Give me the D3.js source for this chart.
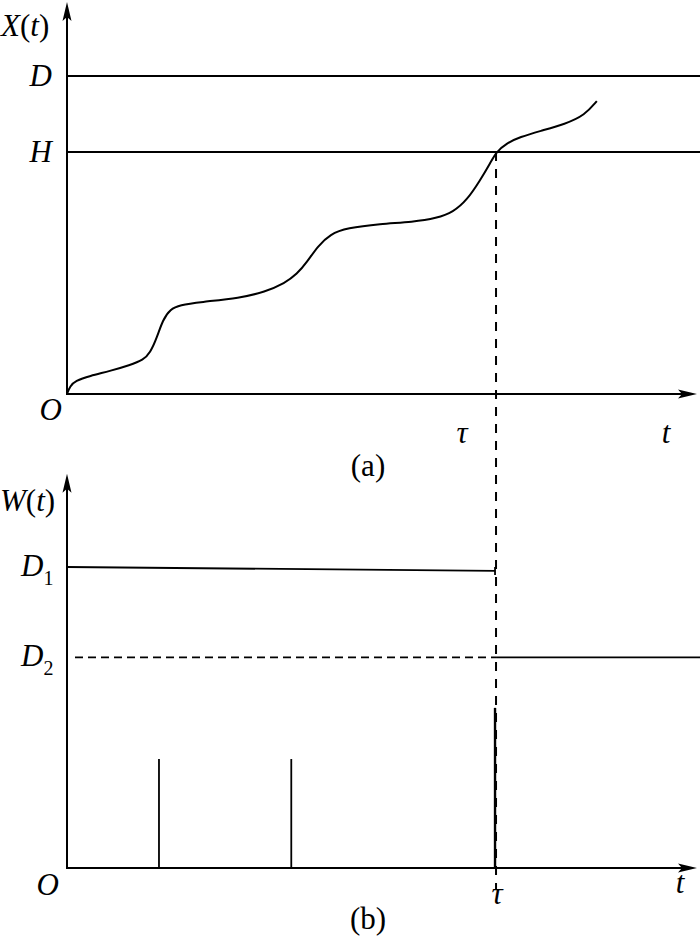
<!DOCTYPE html>
<html>
<head>
<meta charset="utf-8">
<script src="https://cdn.jsdelivr.net/npm/d3@7.9.0/dist/d3.min.js"></script>
<style>
  body { margin: 0; background: #fff; }
  svg { display: block; }
  text { font-family: 'Liberation Serif', 'DejaVu Serif', serif; fill: #000; }
</style>
</head>
<body>
<svg id="chart" width="700" height="944"></svg>
<script>
// panel (a): X(t) path
const curveT = [0, 0.5, 1.3, 3.6, 6.8, 10.0, 12.1, 13.2, 14.3, 15.2, 16.4, 17.9, 21.1, 27.5, 31.4, 34.6, 36.5, 38.1, 39.8, 41.8, 44.4, 49.7, 54.9, 58.7, 61.3, 63.5, 65.6, 67.1, 68.1, 69.8, 71.9, 75.1, 79.1, 82.2, 84.1];
const curveX = [0, 0.25, 0.41, 0.57, 0.72, 0.91, 1.07, 1.29, 1.79, 2.33, 2.67, 2.80, 2.89, 3.02, 3.21, 3.49, 3.77, 4.15, 4.65, 5.03, 5.22, 5.35, 5.41, 5.53, 5.72, 6.10, 6.73, 7.23, 7.61, 7.89, 8.08, 8.27, 8.49, 8.77, 9.21];
const levelsA = [
  { name: 'D', value: 10 },
  { name: 'H', value: 7.61 },
];
const tau = 68.1;

// panel (b): W(t)
const d1Start = 10;
const d1End = 9.87;
const d2Level = 7.0;
const spikeT = [14.6, 35.6];
const spikeW = 3.62;
const tauSpikeW = 5.32;

const tMax = 100;
const xAxisTopA = 12.33;
const yAxisTopB = 13.1;

const svg = d3.select('#chart');
const width = 700;
const fs = 31;

const x = d3.scaleLinear().domain([0, tMax]).range([67, 697]);
const yA = d3.scaleLinear().domain([0, 10]).range([394, 76]);
const yB = d3.scaleLinear().domain([0, 10]).range([868, 567]);

const black = '#000';

function hLine(y1, x1, x2, opts = {}) {
  return svg.append('line')
    .attr('x1', x1).attr('x2', x2).attr('y1', y1).attr('y2', opts.y2 ?? y1)
    .attr('stroke', black)
    .attr('stroke-width', opts.width ?? 1.8)
    .attr('stroke-dasharray', opts.dash ?? null);
}

function vLine(xp, y1, y2, opts = {}) {
  return svg.append('line')
    .attr('x1', xp).attr('x2', xp).attr('y1', y1).attr('y2', y2)
    .attr('stroke', black)
    .attr('stroke-width', opts.width ?? 1.8)
    .attr('stroke-dasharray', opts.dash ?? null);
}

function arrowUp(xp, tip) {
  svg.append('path')
    .attr('d', `M${xp},${tip} L${xp - 4.5},${tip + 19} L${xp},${tip + 15} L${xp + 4.5},${tip + 19} Z`)
    .attr('fill', black);
}

function arrowRight(tip, yp) {
  svg.append('path')
    .attr('d', `M${tip},${yp} L${tip - 19},${yp - 4.5} L${tip - 15},${yp} L${tip - 19},${yp + 4.5} Z`)
    .attr('fill', black);
}

function label(txt, xp, yp, opts = {}) {
  return svg.append('text')
    .attr('x', xp).attr('y', yp)
    .attr('font-size', opts.size ?? fs)
    .attr('font-style', opts.italic === false ? 'normal' : 'italic')
    .attr('text-anchor', opts.anchor ?? 'start')
    .text(txt);
}

function funcLabel(name, xp, yp) {
  const t = svg.append('text').attr('x', xp).attr('y', yp).attr('font-size', fs);
  t.append('tspan').attr('font-style', 'italic').text(name);
  t.append('tspan').text('(');
  t.append('tspan').attr('font-style', 'italic').text('t');
  t.append('tspan').text(')');
}

// ---------- panel (a) ----------
vLine(x(0), yA(0) + 1, yA(xAxisTopA) + 10, { width: 2 });
hLine(yA(0), x(0) - 1, x(tMax) - 10, { width: 2 });
arrowUp(x(0), yA(xAxisTopA));
arrowRight(x(tMax), yA(0));

levelsA.forEach((lv) => {
  hLine(yA(lv.value), x(0), width);
  label(lv.name, 52, yA(lv.value) + 10, { anchor: 'end' });
});

const line = d3.line()
  .x((d, i) => x(curveT[i]))
  .y((d) => yA(d))
  .curve(d3.curveBasis);

svg.append('path')
  .attr('d', line(curveX))
  .attr('fill', 'none')
  .attr('stroke', black)
  .attr('stroke-width', 2);

funcLabel('X', 1, 36);

label('O', 62, yA(0) + 26, { anchor: 'end' });
label('τ', 462, 443, { anchor: 'middle' });
label('t', 666, 443, { anchor: 'middle' });
label('(a)', 368, 476, { italic: false, anchor: 'middle' });

// dashed line from H crossing down through panel (b)
vLine(x(tau), yA(levelsA[1].value), yB(-0.7), { width: 2, dash: '9,8' });

// ---------- panel (b) ----------
vLine(x(0), yB(0) + 1, yB(yAxisTopB) + 10, { width: 2 });
hLine(yB(0), x(0) - 1, x(tMax) - 10, { width: 2 });
arrowUp(x(0), yB(yAxisTopB));
arrowRight(x(tMax), yB(0));

// D1 level, slightly drooping, ending with a short tick
hLine(yB(d1Start), x(0), x(tau) - 1, { y2: yB(d1End) });
vLine(x(tau) - 1, yB(d1End) - 4, yB(d1End) + 4, { width: 1.8 });

// D2 dashed before tau, solid after
hLine(yB(d2Level), x(0) + 8, x(tau), { dash: '8,5' });
hLine(yB(d2Level), x(tau), width);

spikeT.forEach((t) => vLine(x(t), yB(0), yB(spikeW)));
vLine(x(tau) - 1, yB(0), yB(tauSpikeW), { width: 2.4 });

funcLabel('W', 0, 511);

[['1', d1Start], ['2', d2Level]].forEach(([sub, v]) => {
  const t = svg.append('text').attr('x', 21).attr('y', yB(v) + 9).attr('font-size', fs);
  t.append('tspan').attr('font-style', 'italic').text('D');
  t.append('tspan').attr('font-size', 20).attr('dy', 9).text(sub);
});

label('O', 59, yB(0) + 27, { anchor: 'end' });
label('τ', x(tau) + 1, 904, { anchor: 'middle' });
label('t', 680, 893, { anchor: 'middle' });
label('(b)', 368, 929, { italic: false, anchor: 'middle' });
</script>
</body>
</html>
